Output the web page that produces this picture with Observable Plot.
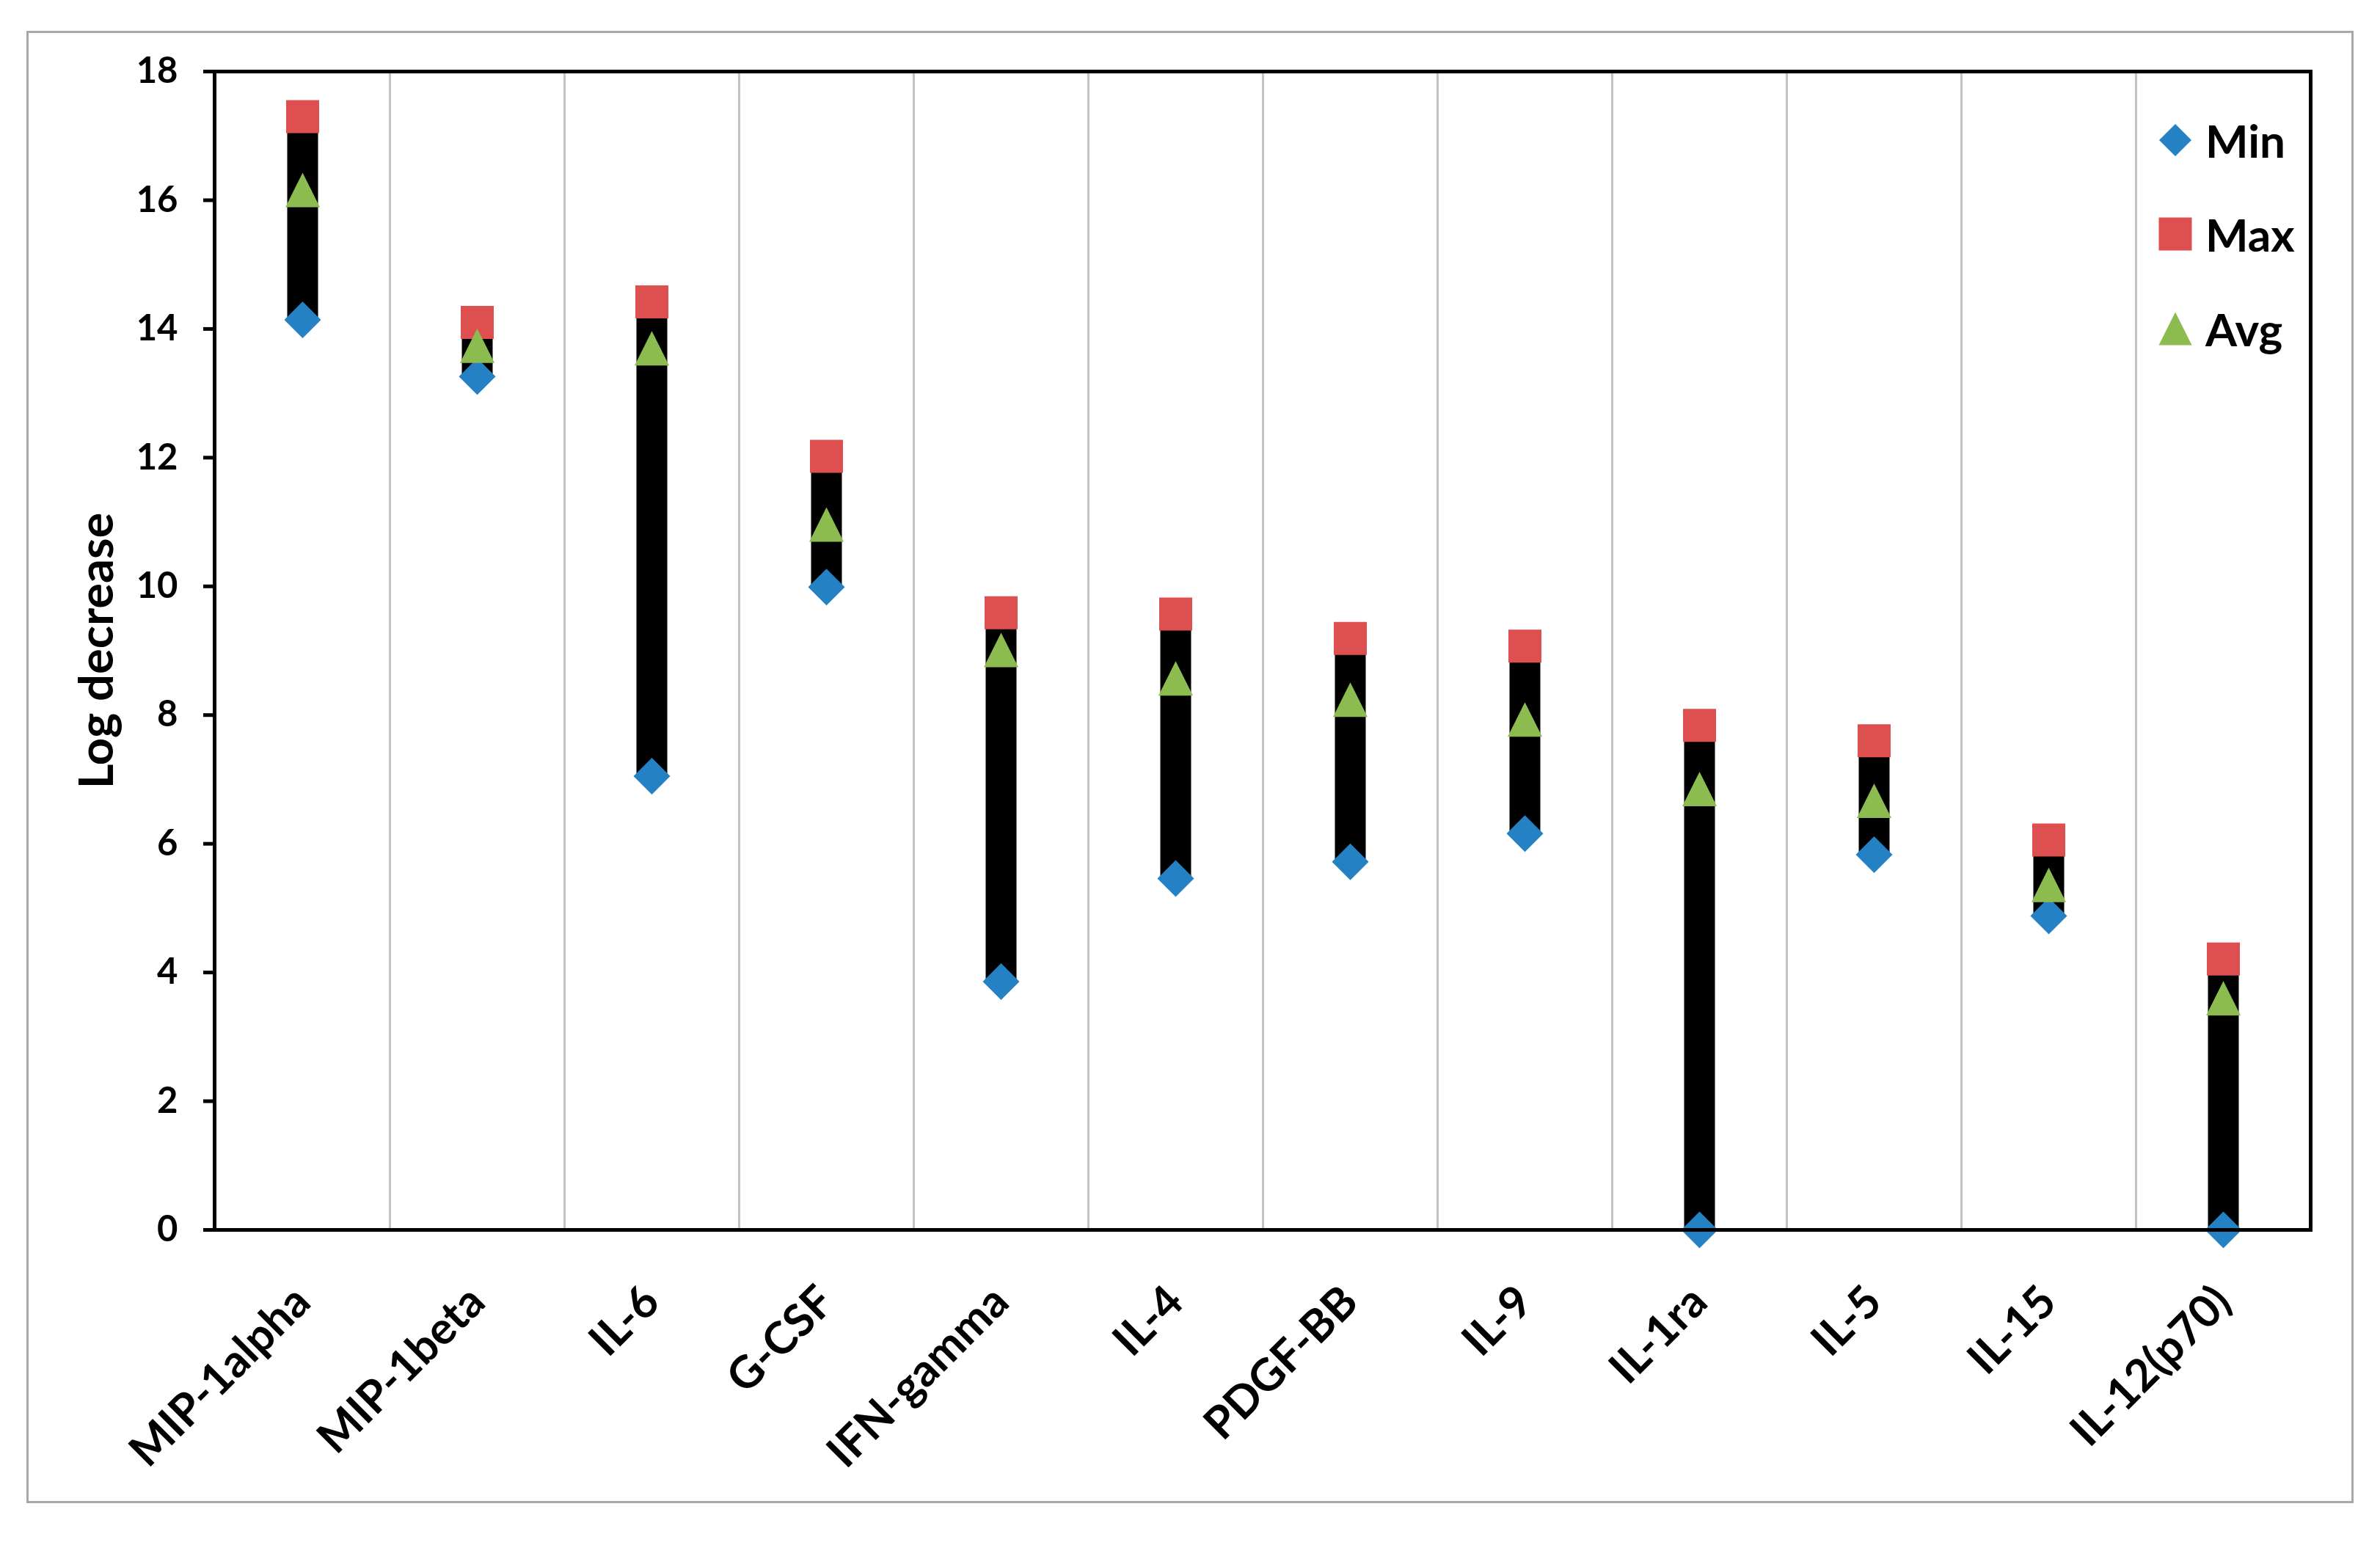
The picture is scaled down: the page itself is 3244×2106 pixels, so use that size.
<!DOCTYPE html>
<html>
<head>
<meta charset="utf-8">
<script src="https://cdn.jsdelivr.net/npm/d3@7"></script>
<script src="https://cdn.jsdelivr.net/npm/@observablehq/plot@0.6"></script>
<style>
  html, body { margin: 0; padding: 0; background: #fff; }
  #wrap { position: relative; width: 3244px; height: 2106px; font-family: Lato, "Open Sans", sans-serif; font-weight: bold; color: #000; }
  #border { position: absolute; left: 36px; top: 42px; width: 3166px; height: 2001px; border: 3px solid #a8a8a8; box-sizing: content-box; pointer-events: none; }
  #chart { position: absolute; left: 0; top: 0; }
  .lg { position: absolute; left: 2940px; height: 80px; display: flex; align-items: center; font-size: 62px; line-height: 1; }
  .lg svg { width: 50px; height: 50px; margin-right: 16px; overflow: visible; }
</style>
</head>
<body>
<div id="wrap">
  <div id="chart"></div>
  <div id="border"></div>
  <div id="legend"></div>
</div>
<script>
// ---- data ----
const categories = ["MIP-1alpha", "MIP-1beta", "IL-6", "G-CSF", "IFN-gamma", "IL-4", "PDGF-BB", "IL-9", "IL-1ra", "IL-5", "IL-15", "IL-12(p70)"];
const minVals = [14.14, 13.26, 7.05, 9.99, 3.86, 5.46, 5.72, 6.16, 0, 5.83, 4.88, 0];
const maxVals = [17.30, 14.10, 14.42, 12.02, 9.59, 9.57, 9.19, 9.07, 7.84, 7.60, 6.06, 4.21];
const avgVals = [16.16, 13.74, 13.70, 10.96, 9.01, 8.57, 8.24, 7.93, 6.85, 6.67, 5.36, 3.60];
const yTicks = [0, 2, 4, 6, 8, 10, 12, 14, 16, 18];
const seriesNames = ["Min", "Max", "Avg"];
const seriesColors = ["#2381c4", "#de4f4f", "#8cbb4f"];

const rows = categories.map((c, i) => ({cat: c, min: minVals[i], max: maxVals[i], avg: avgVals[i]}));

// ---- symbols (size = r*r*PI, r = half extent) ----
const half = size => Math.sqrt(size / Math.PI);
const diamond = {draw(ctx, size) { const r = half(size); ctx.moveTo(0, -r); ctx.lineTo(r, 0); ctx.lineTo(0, r); ctx.lineTo(-r, 0); ctx.closePath(); }};
const square = {draw(ctx, size) { const r = half(size); ctx.rect(-r, -r, 2 * r, 2 * r); }};
const triangle = {draw(ctx, size) { const r = half(size); ctx.moveTo(0, -r); ctx.lineTo(r, r); ctx.lineTo(-r, r); ctx.closePath(); }};

// ---- layout ----
const W = 3244, H = 2106;
const mL = 292, mR = 95, mT = 97, mB = 430;
const step = (W - mL - mR) / categories.length;

const chart = Plot.plot({
  width: W,
  height: H,
  marginLeft: mL,
  marginRight: mR,
  marginTop: mT,
  marginBottom: mB,
  style: {fontFamily: "Lato, 'Open Sans', sans-serif", fontWeight: "bold", color: "#000", background: "transparent", overflow: "visible"},
  x: {type: "band", domain: categories, padding: 0},
  y: {domain: [0, 18], nice: false},
  marks: [
    Plot.ruleX(categories.slice(1), {x: d => d, dx: -step / 2, stroke: "#c2c2c2", strokeWidth: 3}),
    Plot.ruleX(rows, {x: "cat", y1: "min", y2: "max", stroke: "#000", strokeWidth: 42}),
    Plot.dot(rows, {x: "cat", y: "min", symbol: diamond, r: 25, fill: seriesColors[0], stroke: "none"}),
    Plot.dot(rows, {x: "cat", y: "max", symbol: square, r: 22.5, fill: seriesColors[1], stroke: "none"}),
    Plot.dot(rows, {x: "cat", y: "avg", symbol: triangle, r: 23.5, fill: seriesColors[2], stroke: "none"}),
    Plot.frame({stroke: "#000", strokeWidth: 5}),
    Plot.axisY({ticks: yTicks, tickFormat: d => String(d), tickSize: 15, tickPadding: 35, fontSize: 49, strokeWidth: 5, label: null}),
    Plot.axisX({tickSize: 0, tickRotate: -45, tickPadding: 88, fontSize: 61, label: null, textAnchor: "end", lineAnchor: "middle"}),
    Plot.text(["Log decrease"], {text: d => d, frameAnchor: "left", textAnchor: "middle", lineAnchor: "middle", dx: -159, rotate: -90, fontSize: 65, fill: "#000"})
  ]
});
document.getElementById("chart").appendChild(chart);

// ---- legend ----
const legendSymbols = [diamond, square, triangle];
const legendRadius = [22, 22.5, 22.5];
const legendRowY = [191, 319, 448];
const lg = document.getElementById("legend");
seriesNames.forEach((name, i) => {
  const row = document.createElement("div");
  row.className = "lg";
  row.style.top = (legendRowY[i] - 40) + "px";
  const r = legendRadius[i];
  const path = d3.path();
  legendSymbols[i].draw(path, r * r * Math.PI);
  row.innerHTML = `<svg viewBox="-25 -25 50 50"><path d="${path.toString()}" fill="${seriesColors[i]}"/></svg><span>${name}</span>`;
  lg.appendChild(row);
});
</script>
</body>
</html>
